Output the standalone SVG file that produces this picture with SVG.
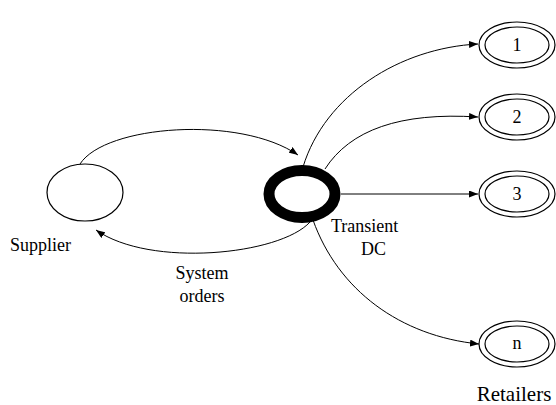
<svg xmlns="http://www.w3.org/2000/svg" width="556" height="405" viewBox="0 0 556 405">
<style>
  text { font-family: "Liberation Serif", "Times New Roman", serif; font-size: 18px; fill: #000; }
  .edge { fill: none; stroke: #000; stroke-width: 1; marker-end: url(#arr); }
  .plain { fill: #fff; stroke: #000; stroke-width: 1.2; }
  .ring { fill: #fff; stroke: #000; stroke-width: 1.2; }
</style>
<defs>
  <marker id="arr" markerUnits="userSpaceOnUse" markerWidth="9" markerHeight="7" refX="9" refY="3.5" orient="auto">
    <path d="M0,0 L9,3.5 L0,7 z" fill="#000"/>
  </marker>
</defs>
<rect width="556" height="405" fill="#fff"/>
<g id="connectors">
  <path class="edge" d="M80,164 C105,125 240,115 298,155"/>
  <path class="edge" d="M310,222 C280,255 150,268 96,230"/>
  <path class="edge" d="M303,167 C325,95 400,48 478,44"/>
  <path class="edge" d="M325,169 C350,130 400,112 478,117"/>
  <path class="edge" d="M341,194 L478,194"/>
  <path class="edge" d="M313,220 C338,290 400,336 479,344"/>
</g>
<g id="supplier" font-family="Liberation Serif, serif">
  <ellipse class="plain" cx="85" cy="192.5" rx="38" ry="28.5"/>
  <text x="10" y="251">Supplier</text>
</g>
<g id="dc" font-family="Liberation Serif, serif">
  <ellipse cx="302" cy="194" rx="33" ry="23.5" fill="#fff" stroke="#000" stroke-width="11"/>
  <text x="331" y="232">Transient</text>
  <text x="361" y="255">DC</text>
</g>
<g id="orders-label" font-family="Liberation Serif, serif">
  <text x="202" y="279" text-anchor="middle">System</text>
  <text x="202" y="302" text-anchor="middle">orders</text>
</g>
<g id="r1">
  <ellipse class="ring" cx="517" cy="45" rx="38" ry="23"/>
  <ellipse class="ring" cx="517" cy="45" rx="32" ry="18"/>
  <text x="517" y="51" text-anchor="middle">1</text>
</g>
<g id="r2">
  <ellipse class="ring" cx="517" cy="117" rx="38" ry="23"/>
  <ellipse class="ring" cx="517" cy="117" rx="32" ry="18"/>
  <text x="517" y="123" text-anchor="middle">2</text>
</g>
<g id="r3">
  <ellipse class="ring" cx="517" cy="194" rx="38" ry="23"/>
  <ellipse class="ring" cx="517" cy="194" rx="32" ry="18"/>
  <text x="517" y="200" text-anchor="middle">3</text>
</g>
<g id="rn">
  <ellipse class="ring" cx="517" cy="344" rx="38" ry="23"/>
  <ellipse class="ring" cx="517" cy="344" rx="32" ry="18"/>
  <text x="517" y="349" text-anchor="middle">n</text>
</g>
<g id="retailers-label">
  <text x="514" y="401" text-anchor="middle" style="font-size:21px">Retailers</text>
</g>
</svg>
